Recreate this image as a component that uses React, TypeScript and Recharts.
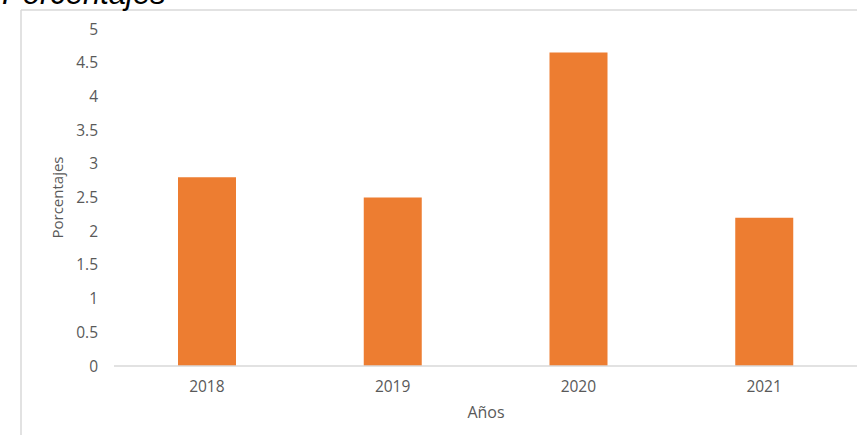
import React from 'react';
import { BarChart, Bar, XAxis, YAxis } from 'recharts';

const years = ['2018', '2019', '2020', '2021'];
const percentages = [2.8, 2.5, 4.65, 2.2];
const yTicks = [0, 0.5, 1, 1.5, 2, 2.5, 3, 3.5, 4, 4.5, 5];

const data = years.map((y, i) => ({ year: y, value: percentages[i] }));

const FONT = '"Open Sans", "Liberation Sans", sans-serif';
const GRAY = '#595959';

export default function App() {
  return (
    <div style={{ position: 'absolute', left: 0, top: 0, width: 857, height: 435, background: '#fff' }}>
      <svg width={857} height={435} style={{ position: 'absolute', left: 0, top: 0 }}>
        <line x1={21} y1={10} x2={21} y2={435} stroke="#D9D9D9" strokeWidth={1.5} />
        <line x1={21} y1={10} x2={857} y2={10} stroke="#D9D9D9" strokeWidth={1.5} />
        <text x={2} y={3.5} fontFamily='"Liberation Sans", Arial, sans-serif' fontStyle="italic" fontSize={31} fill="#000">
          Porcentajes
        </text>
      </svg>
      <div style={{ position: 'absolute', left: 0, top: 0 }}>
        <BarChart
          width={857}
          height={435}
          data={data}
          margin={{ top: 29, right: 0, bottom: 0, left: 0 }}
        >
          <XAxis
            dataKey="year"
            height={69}
            axisLine={{ stroke: '#D9D9D9', strokeWidth: 1.5 }}
            tickLine={false}
            tickSize={0}
            tickMargin={15}
            tick={{ fill: GRAY, fontSize: 15.5, fontFamily: FONT }}
            label={{
              content: () => (
                <text x={486} y={418} textAnchor="middle" fill={GRAY} fontSize={16} fontFamily={FONT}>
                  Años
                </text>
              ),
            }}
          />
          <YAxis
            width={114}
            domain={[0, 5]}
            ticks={yTicks}
            axisLine={false}
            tickLine={false}
            tickSize={0}
            tickMargin={16}
            interval={0}
            tick={{ fill: GRAY, fontSize: 15.5, fontFamily: FONT }}
            label={{
              content: () => (
                <text
                  x={62.5}
                  y={197.5}
                  transform="rotate(-90, 62.5, 197.5)"
                  textAnchor="middle"
                  fill={GRAY}
                  fontSize={15}
                  fontFamily={FONT}
                >
                  Porcentajes
                </text>
              ),
            }}
          />
          <Bar dataKey="value" fill="#ED7D31" barSize={58} isAnimationActive={false} />
        </BarChart>
      </div>
    </div>
  );
}
